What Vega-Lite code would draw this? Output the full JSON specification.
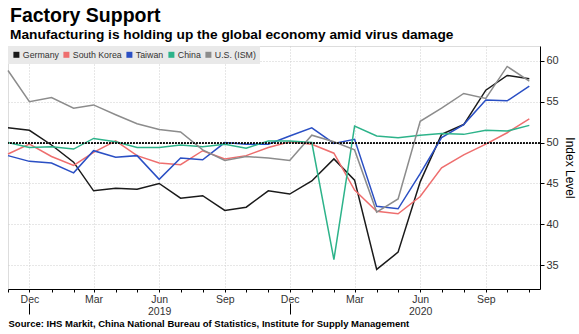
{
  "$schema": "https://vega.github.io/schema/vega-lite/v6.json",
  "width": 532,
  "height": 243,
  "autosize": {"type": "none"},
  "padding": {"left": 8, "top": 46, "right": 39, "bottom": 45},
  "background": "white",
  "title": {
    "text": "Factory Support",
    "subtitle": "Manufacturing is holding up the global economy amid virus damage",
    "anchor": "start",
    "frame": "group",
    "font": "Liberation Sans",
    "fontSize": 19.5,
    "fontWeight": "bold",
    "color": "#000000",
    "subtitleFont": "Liberation Sans",
    "subtitleFontSize": 13.7,
    "subtitleFontWeight": "bold",
    "subtitleColor": "#000000",
    "subtitlePadding": 2,
    "offset": 3,
    "dx": 2
  },
  "data": {
    "values": [
      {"date": "2018-11-01", "country": "Germany", "value": 51.8},
      {"date": "2018-12-01", "country": "Germany", "value": 51.5},
      {"date": "2019-01-01", "country": "Germany", "value": 49.7},
      {"date": "2019-02-01", "country": "Germany", "value": 47.6},
      {"date": "2019-03-01", "country": "Germany", "value": 44.1},
      {"date": "2019-04-01", "country": "Germany", "value": 44.4},
      {"date": "2019-05-01", "country": "Germany", "value": 44.3},
      {"date": "2019-06-01", "country": "Germany", "value": 45.0},
      {"date": "2019-07-01", "country": "Germany", "value": 43.2},
      {"date": "2019-08-01", "country": "Germany", "value": 43.5},
      {"date": "2019-09-01", "country": "Germany", "value": 41.7},
      {"date": "2019-10-01", "country": "Germany", "value": 42.1},
      {"date": "2019-11-01", "country": "Germany", "value": 44.1},
      {"date": "2019-12-01", "country": "Germany", "value": 43.7},
      {"date": "2020-01-01", "country": "Germany", "value": 45.3},
      {"date": "2020-02-01", "country": "Germany", "value": 48.0},
      {"date": "2020-03-01", "country": "Germany", "value": 45.4},
      {"date": "2020-04-01", "country": "Germany", "value": 34.5},
      {"date": "2020-05-01", "country": "Germany", "value": 36.6},
      {"date": "2020-06-01", "country": "Germany", "value": 45.2},
      {"date": "2020-07-01", "country": "Germany", "value": 51.0},
      {"date": "2020-08-01", "country": "Germany", "value": 52.2},
      {"date": "2020-09-01", "country": "Germany", "value": 56.4},
      {"date": "2020-10-01", "country": "Germany", "value": 58.2},
      {"date": "2020-11-01", "country": "Germany", "value": 57.8},
      {"date": "2018-11-01", "country": "South Korea", "value": 48.6},
      {"date": "2018-12-01", "country": "South Korea", "value": 49.8},
      {"date": "2019-01-01", "country": "South Korea", "value": 48.3},
      {"date": "2019-02-01", "country": "South Korea", "value": 47.2},
      {"date": "2019-03-01", "country": "South Korea", "value": 48.8},
      {"date": "2019-04-01", "country": "South Korea", "value": 50.2},
      {"date": "2019-05-01", "country": "South Korea", "value": 48.4},
      {"date": "2019-06-01", "country": "South Korea", "value": 47.5},
      {"date": "2019-07-01", "country": "South Korea", "value": 47.3},
      {"date": "2019-08-01", "country": "South Korea", "value": 49.0},
      {"date": "2019-09-01", "country": "South Korea", "value": 48.0},
      {"date": "2019-10-01", "country": "South Korea", "value": 48.4},
      {"date": "2019-11-01", "country": "South Korea", "value": 49.4},
      {"date": "2019-12-01", "country": "South Korea", "value": 50.1},
      {"date": "2020-01-01", "country": "South Korea", "value": 49.8},
      {"date": "2020-02-01", "country": "South Korea", "value": 48.7},
      {"date": "2020-03-01", "country": "South Korea", "value": 44.2},
      {"date": "2020-04-01", "country": "South Korea", "value": 41.6},
      {"date": "2020-05-01", "country": "South Korea", "value": 41.3},
      {"date": "2020-06-01", "country": "South Korea", "value": 43.4},
      {"date": "2020-07-01", "country": "South Korea", "value": 46.9},
      {"date": "2020-08-01", "country": "South Korea", "value": 48.5},
      {"date": "2020-09-01", "country": "South Korea", "value": 49.8},
      {"date": "2020-10-01", "country": "South Korea", "value": 51.2},
      {"date": "2020-11-01", "country": "South Korea", "value": 52.9},
      {"date": "2018-11-01", "country": "Taiwan", "value": 48.4},
      {"date": "2018-12-01", "country": "Taiwan", "value": 47.7},
      {"date": "2019-01-01", "country": "Taiwan", "value": 47.5},
      {"date": "2019-02-01", "country": "Taiwan", "value": 46.3},
      {"date": "2019-03-01", "country": "Taiwan", "value": 49.0},
      {"date": "2019-04-01", "country": "Taiwan", "value": 48.2},
      {"date": "2019-05-01", "country": "Taiwan", "value": 48.4},
      {"date": "2019-06-01", "country": "Taiwan", "value": 45.5},
      {"date": "2019-07-01", "country": "Taiwan", "value": 48.1},
      {"date": "2019-08-01", "country": "Taiwan", "value": 47.9},
      {"date": "2019-09-01", "country": "Taiwan", "value": 50.0},
      {"date": "2019-10-01", "country": "Taiwan", "value": 49.8},
      {"date": "2019-11-01", "country": "Taiwan", "value": 49.8},
      {"date": "2019-12-01", "country": "Taiwan", "value": 50.8},
      {"date": "2020-01-01", "country": "Taiwan", "value": 51.8},
      {"date": "2020-02-01", "country": "Taiwan", "value": 49.9},
      {"date": "2020-03-01", "country": "Taiwan", "value": 50.4},
      {"date": "2020-04-01", "country": "Taiwan", "value": 42.2},
      {"date": "2020-05-01", "country": "Taiwan", "value": 41.9},
      {"date": "2020-06-01", "country": "Taiwan", "value": 46.2},
      {"date": "2020-07-01", "country": "Taiwan", "value": 50.6},
      {"date": "2020-08-01", "country": "Taiwan", "value": 52.2},
      {"date": "2020-09-01", "country": "Taiwan", "value": 55.2},
      {"date": "2020-10-01", "country": "Taiwan", "value": 55.1},
      {"date": "2020-11-01", "country": "Taiwan", "value": 56.9},
      {"date": "2018-11-01", "country": "China", "value": 50.0},
      {"date": "2018-12-01", "country": "China", "value": 49.4},
      {"date": "2019-01-01", "country": "China", "value": 49.5},
      {"date": "2019-02-01", "country": "China", "value": 49.2},
      {"date": "2019-03-01", "country": "China", "value": 50.5},
      {"date": "2019-04-01", "country": "China", "value": 50.1},
      {"date": "2019-05-01", "country": "China", "value": 49.4},
      {"date": "2019-06-01", "country": "China", "value": 49.4},
      {"date": "2019-07-01", "country": "China", "value": 49.7},
      {"date": "2019-08-01", "country": "China", "value": 49.5},
      {"date": "2019-09-01", "country": "China", "value": 49.8},
      {"date": "2019-10-01", "country": "China", "value": 49.3},
      {"date": "2019-11-01", "country": "China", "value": 50.2},
      {"date": "2019-12-01", "country": "China", "value": 50.2},
      {"date": "2020-01-01", "country": "China", "value": 50.0},
      {"date": "2020-02-01", "country": "China", "value": 35.7},
      {"date": "2020-03-01", "country": "China", "value": 52.0},
      {"date": "2020-04-01", "country": "China", "value": 50.8},
      {"date": "2020-05-01", "country": "China", "value": 50.6},
      {"date": "2020-06-01", "country": "China", "value": 50.9},
      {"date": "2020-07-01", "country": "China", "value": 51.1},
      {"date": "2020-08-01", "country": "China", "value": 51.0},
      {"date": "2020-09-01", "country": "China", "value": 51.5},
      {"date": "2020-10-01", "country": "China", "value": 51.4},
      {"date": "2020-11-01", "country": "China", "value": 52.1},
      {"date": "2018-11-01", "country": "U.S. (ISM)", "value": 58.8},
      {"date": "2018-12-01", "country": "U.S. (ISM)", "value": 55.0},
      {"date": "2019-01-01", "country": "U.S. (ISM)", "value": 55.5},
      {"date": "2019-02-01", "country": "U.S. (ISM)", "value": 54.2},
      {"date": "2019-03-01", "country": "U.S. (ISM)", "value": 54.6},
      {"date": "2019-04-01", "country": "U.S. (ISM)", "value": 53.4},
      {"date": "2019-05-01", "country": "U.S. (ISM)", "value": 52.3},
      {"date": "2019-06-01", "country": "U.S. (ISM)", "value": 51.6},
      {"date": "2019-07-01", "country": "U.S. (ISM)", "value": 51.3},
      {"date": "2019-08-01", "country": "U.S. (ISM)", "value": 49.1},
      {"date": "2019-09-01", "country": "U.S. (ISM)", "value": 47.8},
      {"date": "2019-10-01", "country": "U.S. (ISM)", "value": 48.3},
      {"date": "2019-11-01", "country": "U.S. (ISM)", "value": 48.1},
      {"date": "2019-12-01", "country": "U.S. (ISM)", "value": 47.8},
      {"date": "2020-01-01", "country": "U.S. (ISM)", "value": 50.9},
      {"date": "2020-02-01", "country": "U.S. (ISM)", "value": 50.1},
      {"date": "2020-03-01", "country": "U.S. (ISM)", "value": 49.1},
      {"date": "2020-04-01", "country": "U.S. (ISM)", "value": 41.5},
      {"date": "2020-05-01", "country": "U.S. (ISM)", "value": 43.1},
      {"date": "2020-06-01", "country": "U.S. (ISM)", "value": 52.6},
      {"date": "2020-07-01", "country": "U.S. (ISM)", "value": 54.2},
      {"date": "2020-08-01", "country": "U.S. (ISM)", "value": 56.0},
      {"date": "2020-09-01", "country": "U.S. (ISM)", "value": 55.4},
      {"date": "2020-10-01", "country": "U.S. (ISM)", "value": 59.3},
      {"date": "2020-11-01", "country": "U.S. (ISM)", "value": 57.5}
    ]
  },
  "layer": [
    {
      "mark": {"type": "line", "strokeWidth": 1.5},
      "encoding": {
        "x": {
          "field": "date",
          "type": "temporal",
          "scale": {
            "type": "utc",
            "domain": [
              {"year": 2018, "month": 11, "date": 1, "utc": true},
              {"year": 2020, "month": 11, "date": 16, "utc": true}
            ]
          },
          "axis": {
            "title": "Source: IHS Markit, China National Bureau of Statistics, Institute for Supply Management",
            "titleAnchor": "start",
            "titleAlign": "left",
            "titleFont": "Liberation Sans",
            "titleFontSize": 9.5,
            "titleFontWeight": "bold",
            "titleColor": "#000000",
            "titlePadding": 2,
            "tickCount": {"interval": "month", "step": 1},
            "labelExpr": "utcmonth(datum.value) % 3 == 2 ? (utcmonth(datum.value) == 5 ? [utcFormat(datum.value, '%b'), utcFormat(datum.value, '%Y')] : utcFormat(datum.value, '%b')) : ''",
            "labelFont": "Liberation Sans",
            "labelFontSize": 10.5,
            "labelColor": "#333333",
            "labelOverlap": false,
            "labelFlush": false,
            "labelBound": false,
            "labelLineHeight": 12,
            "labelPadding": -20,
            "tickSize": 25,
            "tickColor": "#000000",
            "tickWidth": 1,
            "tickDash": {
              "condition": {"test": "utcmonth(datum.value) == 11", "value": [3, 11, 11, 40]},
              "value": [3, 40]
            },
            "domainColor": "#000000",
            "domainWidth": 1,
            "grid": true,
            "gridColor": "#cfcfcf",
            "gridDash": [1, 2],
            "gridOpacity": {
              "condition": {"test": "utcmonth(datum.value) % 3 == 2", "value": 1},
              "value": 0
            }
          }
        },
        "y": {
          "field": "value",
          "type": "quantitative",
          "scale": {"domain": [32.1, 61.8], "nice": false, "zero": false},
          "axis": {
            "orient": "right",
            "values": [35, 40, 45, 50, 55, 60],
            "title": "Index Level",
            "titleFont": "Liberation Sans",
            "titleFontSize": 12,
            "titleFontWeight": "normal",
            "titleColor": "#000000",
            "titlePadding": 4,
            "labelFont": "Liberation Sans",
            "labelFontSize": 11,
            "labelColor": "#333333",
            "labelPadding": 2,
            "tickSize": 4,
            "tickColor": "#000000",
            "domainColor": "#000000",
            "grid": true,
            "gridColor": "#cfcfcf",
            "gridDash": [1, 2]
          }
        },
        "color": {
          "field": "country",
          "type": "nominal",
          "scale": {
            "domain": ["Germany", "South Korea", "Taiwan", "China", "U.S. (ISM)"],
            "range": ["#1a1a1a", "#ee6e6e", "#2a4fc4", "#2db38a", "#8c8c8c"]
          },
          "legend": {
            "title": null,
            "orient": "top-left",
            "direction": "horizontal",
            "offset": 0,
            "padding": 4,
            "fillColor": "#e9e9e9",
            "symbolType": "square",
            "symbolSize": 36,
            "symbolStrokeWidth": 0,
            "labelFont": "Liberation Sans",
            "labelFontSize": 8.8,
            "labelColor": "#333333",
            "labelOffset": 2,
            "columnPadding": 3,
            "encode": {
              "symbols": {"update": {"fill": {"scale": "color", "field": "value"}, "strokeWidth": {"value": 0}}}
            }
          }
        }
      }
    },
    {
      "mark": {"type": "rule", "color": "#222222", "strokeDash": [1.5, 1.5], "strokeWidth": 1},
      "encoding": {"y": {"datum": 50}}
    }
  ]
}
